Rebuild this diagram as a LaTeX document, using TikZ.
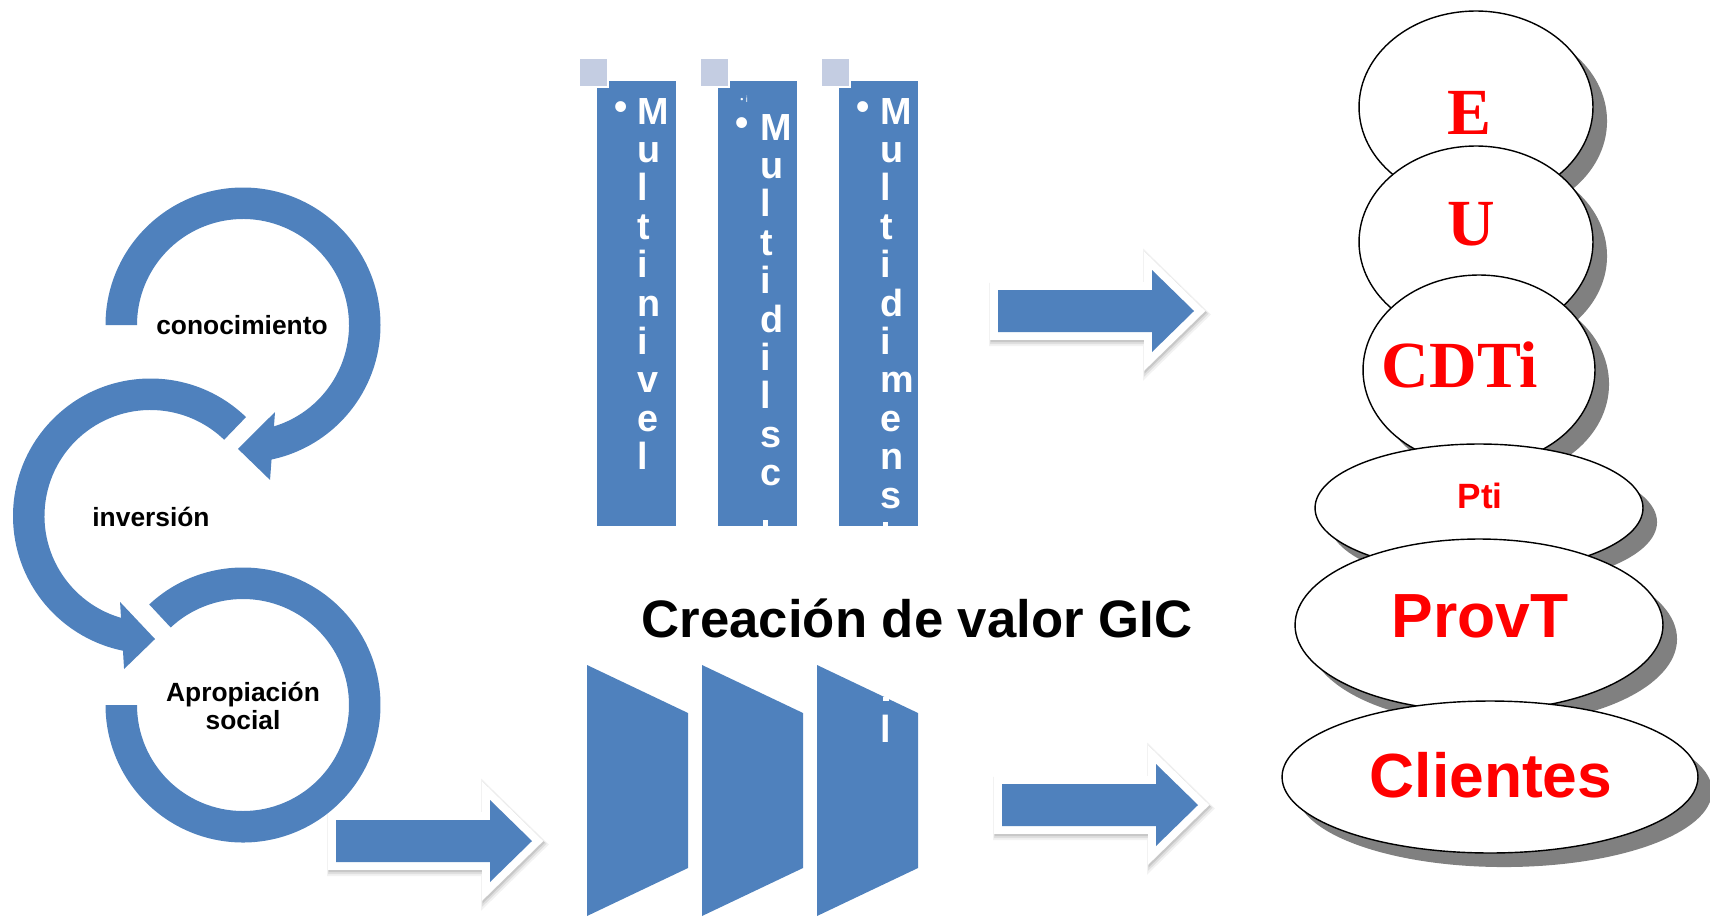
\documentclass[tikz,border=0pt]{standalone}
\usepackage{fontspec}
\setmainfont{Liberation Sans}
\newfontfamily\serifbold{Liberation Serif}
\usetikzlibrary{shapes.geometric}
\usetikzlibrary{shadows}

\definecolor{ringblue}{RGB}{79,129,189}
\definecolor{tabgray}{RGB}{196,205,226}
\definecolor{shadowgray}{RGB}{128,128,128}

\begin{document}
\begin{tikzpicture}
    [
    x=0.02cm, y=-0.02cm,
    ringtext/.style={font=\bfseries\fontsize{15}{15.5}\selectfont, align=center, inner sep=0, anchor=base},
    colletter/.style={text=white, font=\bfseries\fontsize{21.5}{22}\selectfont, inner sep=0, anchor=base west},
    bulletmark/.style={text=white, font=\bfseries\fontsize{21.5}{22}\selectfont, inner sep=0},
    titletext/.style={font=\bfseries\fontsize{30}{32}\selectfont, inner sep=0, anchor=base},
    actor/.style={ellipse, draw=black, line width=0.8pt, fill=white, inner sep=0,
        drop shadow={shadow xshift=8pt, shadow yshift=-8pt, fill=shadowgray, opacity=1}},
    serifred/.style={text=red, font=\serifbold\bfseries\fontsize{37.5}{38}\selectfont, inner sep=0, anchor=base},
    bigred/.style={text=red, font=\bfseries\fontsize{35.5}{36}\selectfont, inner sep=0, anchor=base},
    smallred/.style={text=red, font=\bfseries\fontsize{20}{21}\selectfont, inner sep=0, anchor=base},
    arrowframe/.style={fill=white, draw=white, line width=9pt, line join=miter,
        preaction={draw=black, fill=black, line width=12pt, opacity=.05,
            transform canvas={shift={(1pt,-2pt)}}},
        preaction={draw=black, fill=black, line width=10.5pt, opacity=.08,
            transform canvas={shift={(0.8pt,-1.6pt)}}},
        preaction={draw=black, fill=black, line width=9.5pt, opacity=.1,
            transform canvas={shift={(0.5pt,-1pt)}}}},
    ]

    \useasboundingbox (0,0) rectangle (1710,916);

    % block arrows
    \foreach \ax/\ay in {336/841, 998/311, 1002/805}
    {
        \begin{scope}[shift={(\ax,\ay)}]
            \filldraw[arrowframe] (0,-21) -- (154,-21) -- (154,-41) -- (196,0) -- (154,41) -- (154,21) -- (0,21) -- cycle;
            \fill[ringblue] (0,-21) -- (154,-21) -- (154,-41) -- (196,0) -- (154,41) -- (154,21) -- (0,21) -- cycle;
        \end{scope}
    }

    % circle arrows
    \coordinate (c_know) at (243,325);
    \coordinate (c_inv) at (150.5,516);
    \coordinate (c_soc) at (243,705);

    \fill[ringblue] ([shift={(180:137.5)}]c_know) arc[start angle=180, end angle=439, radius=137.5]
        -- ([shift={(439:106)}]c_know) arc[start angle=439, end angle=180, radius=106] -- cycle;
    \fill[ringblue] ([shift={(69.8:92.7)}]c_know) -- ([shift={(92.3:124)}]c_know)
        -- ([shift={(80.1:157.3)}]c_know) -- cycle;

    \fill[ringblue] ([shift={(-46:137.5)}]c_inv) arc[start angle=-46, end angle=-259, radius=137.5]
        -- ([shift={(-259:106)}]c_inv) arc[start angle=-259, end angle=-46, radius=106] -- cycle;
    \fill[ringblue] ([shift={(109.5:91.2)}]c_inv) -- ([shift={(87.9:123.1)}]c_inv)
        -- ([shift={(99.8:155.3)}]c_inv) -- cycle;

    \fill[ringblue] ([shift={(-133:137.5)}]c_soc) arc[start angle=-133, end angle=180, radius=137.5]
        -- ([shift={(180:106)}]c_soc) arc[start angle=180, end angle=-133, radius=106] -- cycle;

    \node[ringtext] (t_know) at (242,334) {conocimiento};
    \node[ringtext] (t_inv) at (151,526) {inversión};
    \node[ringtext] (t_soc) at (243,729) {Apropiación\\social};

    % vertical lists
    \foreach \cx in {597,718,839}
    {
        \fill[ringblue] (\cx,81) rectangle ++(79,445);
        \filldraw[fill=tabgray, draw=white, line width=1.2pt] (\cx-18,58) rectangle ++(29,29);
    }

    \node[bulletmark] (b_lvl) at (621,111) {•};
    \foreach \ch [count=\i from 0] in {M,u,l,t,i,n,i,v,e,l}
        \node[colletter] (lvl\i) at (637,{124+38.4*\i}) {\ch};

    \node[text=white, font=\fontsize{5}{6}\selectfont, inner sep=0] (dsc_top) at (744,99) {• i};
    \node[bulletmark] (b_dsc) at (742,127) {•};
    \foreach \ch [count=\i from 0] in {M,u,l,t,i,d,i,l,s,c}
        \node[colletter] (dsc\i) at (760,{140+38.4*\i}) {\ch};
    \fill[white] (763,520) rectangle (768,526);

    \node[bulletmark] (b_dim) at (863,111) {•};
    \foreach \ch [count=\i from 0] in {M,u,l,t,i,d,i,m,e,n,s}
        \node[colletter] (dim\i) at (880,{124+38.4*\i}) {\ch};
    \fill[white] (883,522) rectangle (888,526);

    % funnel blocks
    \foreach \tx in {587,702,817}
        \fill[ringblue] (\tx,665) -- ++(101,48) -- ++(0,155) -- ++(-101,48) -- cycle;

    \node[colletter] (dim_over) at (880,742) {l};
    \fill[white] (883,697) rectangle (889,701);

    \node[titletext] (title) at (917,637) {Creación de valor GIC};

    % stakeholders
    \node[actor, minimum width=4.68cm, minimum height=3.84cm] (ell_e) at (1476,107) {};
    \node[serifred] (txt_e) at (1469,134) {E};
    \node[actor, minimum width=4.68cm, minimum height=3.84cm] (ell_u) at (1476,242) {};
    \node[serifred] (txt_u) at (1471,245) {U};
    \node[actor, minimum width=4.64cm, minimum height=3.8cm] (ell_cdti) at (1479,370) {};
    \node[serifred] (txt_cdti) at (1460,387) {CDTi};
    \node[actor, minimum width=6.56cm, minimum height=2.56cm] (ell_pti) at (1479,508) {};
    \node[smallred] (txt_pti) at (1480,508) {Pti};
    \node[actor, minimum width=7.36cm, minimum height=3.44cm] (ell_provt) at (1479,625) {};
    \node[bigred] (txt_provt) at (1480,637) {ProvT};
    \node[actor, minimum width=8.32cm, minimum height=3.04cm] (ell_cli) at (1490,777) {};
    \node[bigred] (txt_cli) at (1491,797) {Clientes};
\end{tikzpicture}
\end{document}
